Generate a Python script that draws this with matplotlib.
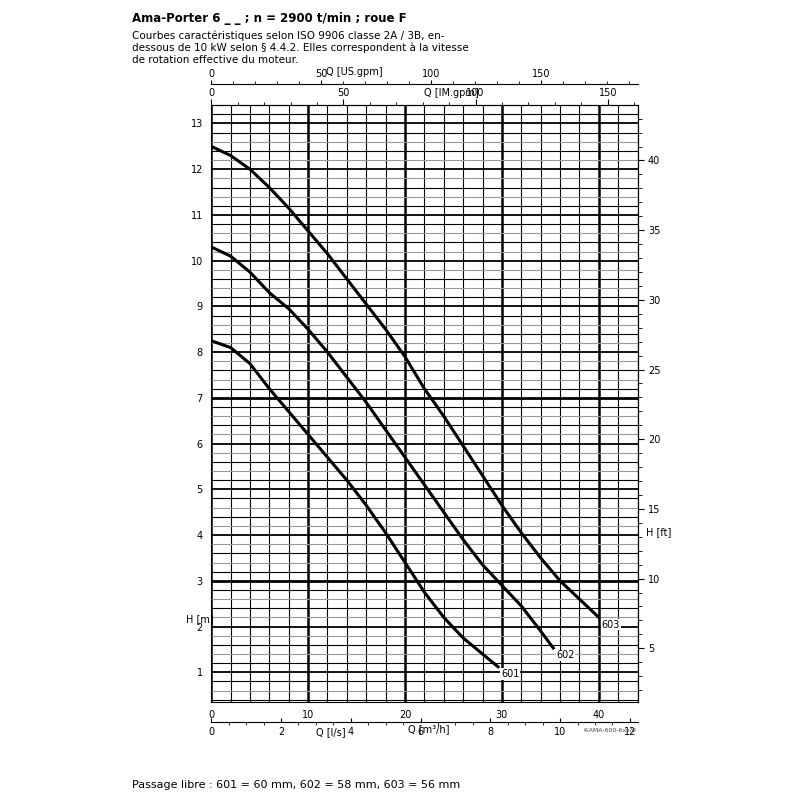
import matplotlib
matplotlib.use("Agg")
import matplotlib.pyplot as plt

# curve readings: Q [m3/h] vs H [m]
q_601 = [0, 2, 4, 6, 8, 10, 12, 14, 16, 18, 20, 22, 24, 26, 28, 29.6]
h_601 = [8.25, 8.1, 7.75, 7.2, 6.7, 6.2, 5.7, 5.2, 4.65, 4.05, 3.4, 2.75, 2.2, 1.75, 1.4, 1.12]
q_602 = [0, 2, 4, 6, 8, 10, 12, 14, 16, 18, 20, 22, 24, 26, 28, 30, 32, 34, 35.3]
h_602 = [10.3, 10.1, 9.75, 9.3, 8.95, 8.5, 8.0, 7.45, 6.9, 6.3, 5.7, 5.1, 4.5, 3.9, 3.35, 2.9, 2.45, 1.9, 1.53]
q_603 = [0, 2, 4, 6, 8, 10, 12, 14, 16, 18, 20, 22, 24, 26, 28, 30, 32, 34, 36, 38, 40]
h_603 = [12.5, 12.3, 12.0, 11.6, 11.15, 10.65, 10.15, 9.6, 9.05, 8.5, 7.9, 7.2, 6.6, 5.95, 5.3, 4.65, 4.05, 3.5, 3.0, 2.6, 2.2]
curve_names = ["601", "602", "603"]

fig = plt.figure(figsize=(8, 8), dpi=100)
ax = fig.add_axes([0.264, 0.1225, 0.533, 0.746])
ax.set_xlim(0, 44)
ax.set_ylim(0.35, 13.4)

# grid
for x in range(0, 45, 2):
    lw = 1.8 if x % 10 == 0 else 0.8
    ax.axvline(x, color="black", lw=lw, zorder=1)
for i in range(2, 67):
    y = i * 0.2
    if abs(y - round(y)) < 1e-6:
        lw = 2.0 if round(y) in (3, 7) else 1.3
        col = "black"
    else:
        lw = 0.8
        col = "black" if i % 2 == 0 else "#999999"
    ax.axhline(y, color=col, lw=lw, zorder=1)

for q, h, name in zip([q_601, q_602, q_603], [h_601, h_602, h_603], curve_names):
    ax.plot(q, h, color="black", lw=2.2, zorder=3)
    ax.text(q[-1] + 0.3, h[-1] - 0.05, name, fontsize=7, va="top", ha="left",
            bbox=dict(facecolor="white", edgecolor="none", pad=0.5), zorder=4)

ax.set_xticks([0, 10, 20, 30, 40])
ax.set_yticks(range(1, 14))
ax.tick_params(labelsize=7, length=0, pad=6)
ax.text(22.5, -0.05, "Q [m³/h]", fontsize=7, transform=ax.get_xaxis_transform(), ha="center")
ax.text(-0.06, 2.1, "H [m]", fontsize=7, transform=ax.get_yaxis_transform(), ha="left")

# right axis: feet
sec_r = ax.secondary_yaxis("right", functions=(lambda m: m * 3.281, lambda f: f / 3.281))
sec_r.set_yticks(range(5, 45, 5))
sec_r.set_yticks(range(2, 45), minor=True)
sec_r.tick_params(labelsize=7, direction="out", length=4)
sec_r.tick_params(which="minor", length=3)
ax.text(1.02, 4.0, "H [ft]", fontsize=7, transform=ax.get_yaxis_transform())

# bottom: l/s
sec_b = ax.secondary_xaxis(-0.034, functions=(lambda q: q / 3.6, lambda l: l * 3.6))
sec_b.set_xticks(range(0, 13, 2))
sec_b.set_xticks([x * 0.5 for x in range(0, 25)], minor=True)
sec_b.tick_params(labelsize=7, direction="in", length=3)
ax.text(0.245, -0.055, "Q [l/s]", fontsize=7, transform=ax.transAxes)

# top: IM gpm
sec_t = ax.secondary_xaxis("top", functions=(lambda q: q * 3.666, lambda g: g / 3.666))
sec_t.set_xticks([0, 50, 100, 150])
sec_t.set_xticks(range(0, 165, 10), minor=True)
sec_t.tick_params(labelsize=7, direction="out", length=4, pad=1)
ax.text(0.5, 1.015, "Q [IM.gpm]", fontsize=7, transform=ax.transAxes)

# top: US gpm
sec_u = ax.secondary_xaxis(1.035, functions=(lambda q: q * 4.403, lambda g: g / 4.403))
sec_u.set_xticks([0, 50, 100, 150])
sec_u.set_xticks(range(0, 195, 10), minor=True)
sec_u.tick_params(labelsize=7, direction="out", length=3, pad=1)
ax.text(0.27, 1.05, "Q [US.gpm]", fontsize=7, transform=ax.transAxes)

for a in (sec_b, sec_t, sec_u):
    a.spines["top"].set_linewidth(0.8)
    a.spines["bottom"].set_linewidth(0.8)

fig.text(0.165, 0.985, "Ama-Porter 6 _ _ ; n = 2900 t/min ; roue F", fontsize=8.5,
         fontweight="bold", va="top")
fig.text(0.165, 0.962, "Courbes caractéristiques selon ISO 9906 classe 2A / 3B, en-\n"
         "dessous de 10 kW selon § 4.4.2. Elles correspondent à la vitesse\n"
         "de rotation effective du moteur.", fontsize=7.5, va="top", linespacing=1.2)
fig.text(0.795, 0.085, "K-AMA-600-6xx/0", fontsize=4.5, ha="right", color="#444444")
fig.text(0.165, 0.015, "Passage libre : 601 = 60 mm, 602 = 58 mm, 603 = 56 mm", fontsize=8)

fig.savefig("out.png", dpi=100)
